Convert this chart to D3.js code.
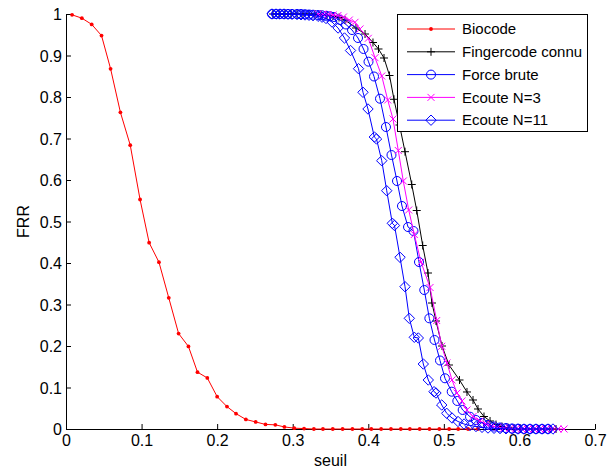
<!DOCTYPE html>
<html><head><meta charset="utf-8">
<script src="https://cdn.jsdelivr.net/npm/d3@7"></script>
<style>body{margin:0;background:#fff}svg text{font-family:"Liberation Sans",Arial,Helvetica,sans-serif;}</style>
</head><body><svg id="c" width="607" height="470"></svg>
<script>
const xTicks=[0,0.1,0.2,0.3,0.4,0.5,0.6,0.7];
const yTicks=[0,0.1,0.2,0.3,0.4,0.5,0.6,0.7,0.8,0.9,1];
const seriesNames=["Biocode","Fingercode connu","Force brute","Ecoute N=3","Ecoute N=11"];
const xLabel="seuil", yLabel="FRR";

const bioX=[0.008,0.021,0.034,0.047,0.059,0.072,0.085,0.098,0.110,0.123,0.136,0.149,0.162,0.174,0.187,0.200,0.213,0.225,0.238,0.251,0.264,0.277,0.289,0.302,0.315,0.328,0.340,0.353,0.366,0.379,0.392,0.404,0.417,0.430,0.443,0.455,0.468,0.481,0.494,0.507,0.519,0.532,0.545];
const bioY=[0.998,0.990,0.975,0.948,0.868,0.763,0.684,0.553,0.449,0.402,0.316,0.230,0.199,0.137,0.123,0.078,0.054,0.037,0.023,0.017,0.011,0.010,0.005,0.002,0.001,0,0,0,0,0,0,0,0,0,0,0,0,0,0,0,0,0,0];

const fcX=[0.2739,0.2819,0.2898,0.2977,0.3057,0.3136,0.3216,0.3295,0.3374,0.3454,0.3533,0.3613,0.3692,0.3837,0.3957,0.4062,0.4135,0.4208,0.4281,0.4340,0.4413,0.4486,0.4575,0.4641,0.4720,0.4790,0.4843,0.4896,0.4976,0.5068,0.5207,0.5306,0.5386,0.5452,0.5531,0.5611,0.5690,0.5769,0.5849,0.5928,0.6008,0.6087,0.6167,0.6246,0.6325,0.6405,0.6484];
const fcY=[1,1,1,1,1,1,1,0.9995,0.9988,0.9976,0.9952,0.9916,0.9855,0.9663,0.9518,0.9313,0.9157,0.8940,0.8518,0.7945,0.7325,0.6682,0.5892,0.5265,0.4422,0.3759,0.3036,0.2602,0.2000,0.1542,0.1181,0.0892,0.0699,0.0482,0.0301,0.0193,0.0108,0.0060,0.0031,0.0017,0.0007,0,0,0,0,0,0];

const fbX=[0.2726,0.2779,0.2832,0.2885,0.2938,0.2991,0.3057,0.3110,0.3163,0.3216,0.3269,0.3335,0.3388,0.3441,0.3494,0.3546,0.3626,0.3705,0.3785,0.3864,0.3937,0.4003,0.4076,0.4155,0.4234,0.4307,0.4380,0.4446,0.4526,0.4598,0.4671,0.4741,0.4808,0.4876,0.4949,0.5015,0.5104,0.5178,0.5249,0.5346,0.5425,0.5505,0.5584,0.5664,0.5743,0.5822,0.5902,0.5981,0.6060,0.6140,0.6219,0.6299,0.6378];
const fbY=[1,1,1,1,1,1,1,1,0.9993,0.9988,0.9983,0.9976,0.9969,0.9957,0.9945,0.9928,0.9855,0.9747,0.9614,0.9422,0.9157,0.8851,0.8494,0.7959,0.7277,0.6602,0.5976,0.5373,0.4867,0.4771,0.4024,0.3349,0.2667,0.2145,0.1651,0.1222,0.0899,0.0675,0.0458,0.0296,0.0217,0.0145,0.0096,0.0060,0.0036,0.0024,0.0012,0.0007,0,0,0,0,0];

const e3X=[0.3335,0.3401,0.3467,0.3533,0.3599,0.3672,0.3749,0.3824,0.3890,0.4000,0.4089,0.4178,0.4257,0.4327,0.4397,0.4463,0.4535,0.4609,0.4698,0.4817,0.4905,0.4972,0.5042,0.5108,0.5174,0.5240,0.5306,0.5386,0.5478,0.5558,0.5637,0.5717,0.5796,0.5875,0.5955,0.6034,0.6113,0.6193,0.6272,0.6352,0.6431,0.6511,0.6590];
const e3Y=[1.0,0.9995,0.9988,0.9976,0.9964,0.9928,0.9855,0.9800,0.9639,0.9414,0.8947,0.8506,0.7928,0.7470,0.6711,0.5976,0.5277,0.4687,0.4024,0.3410,0.2614,0.1993,0.1590,0.1181,0.0867,0.0675,0.0458,0.0301,0.0193,0.0120,0.0072,0.0043,0.0024,0.0014,0.0007,0,0,0,0,0,0,0,0];

const e11X=[0.2726,0.2779,0.2832,0.2885,0.2938,0.2991,0.3057,0.3110,0.3163,0.3216,0.3269,0.3335,0.3388,0.3441,0.3520,0.3600,0.3685,0.3765,0.3871,0.3930,0.3996,0.4080,0.4109,0.4178,0.4244,0.4318,0.4347,0.4420,0.4486,0.4543,0.4609,0.4662,0.4728,0.4794,0.4870,0.4896,0.4972,0.5038,0.5108,0.5187,0.5267,0.5346,0.5425,0.5505,0.5584,0.5664,0.5743,0.5822,0.5902,0.5981,0.6060,0.6140,0.6219,0.6299,0.6378,0.6444];
const e11Y=[1,1,1,1,0.9995,0.9993,0.9988,0.9981,0.9976,0.9969,0.9959,0.9945,0.9923,0.9892,0.9807,0.9663,0.9422,0.9120,0.8682,0.8113,0.7711,0.7036,0.6988,0.6465,0.5742,0.4957,0.4904,0.4137,0.3429,0.2667,0.2210,0.2193,0.1566,0.1181,0.0899,0.0867,0.0578,0.0378,0.0265,0.0181,0.0120,0.0084,0.0060,0.0041,0.0024,0.0017,0.0010,0.0005,0,0,0,0,0,0,0,0];

const W=607,H=470,L=66,R=595,T=14,B=429;
const FS=16;
const x=d3.scaleLinear().domain([0,0.7]).range([L,R]);
const y=d3.scaleLinear().domain([0,1]).range([B,T]);
const svg=d3.select("#c");

const markers={
  dot:g=>g.append("circle").attr("r",1.9).attr("fill","#ff0000").attr("stroke","none"),
  plus:g=>g.append("path").attr("d","M-4,0H4M0,-4V4").attr("fill","none"),
  circle:g=>g.append("circle").attr("r",4.5).attr("fill","none"),
  cross:g=>g.append("path").attr("d","M-3.5,-3.5L3.5,3.5M-3.5,3.5L3.5,-3.5").attr("fill","none"),
  diamond:g=>g.append("path").attr("d","M0,-5.2L5.2,0L0,5.2L-5.2,0Z").attr("fill","none")
};
const series=[
  {name:seriesNames[0],xs:bioX,ys:bioY,color:"#ff0000",m:"dot"},
  {name:seriesNames[1],xs:fcX,ys:fcY,color:"#000000",m:"plus"},
  {name:seriesNames[2],xs:fbX,ys:fbY,color:"#0000ff",m:"circle"},
  {name:seriesNames[3],xs:e3X,ys:e3Y,color:"#ff00ff",m:"cross"},
  {name:seriesNames[4],xs:e11X,ys:e11Y,color:"#0000ff",m:"diamond"}
];

// axes
const xa=svg.append("g").attr("transform",`translate(0,${B})`)
  .call(d3.axisBottom(x).tickValues(xTicks).tickSizeInner(-5).tickSizeOuter(0).tickPadding(6).tickFormat(d3.format("~g")));
const ya=svg.append("g").attr("transform",`translate(${L},0)`)
  .call(d3.axisLeft(y).tickValues(yTicks).tickSizeInner(-5).tickSizeOuter(0).tickPadding(4).tickFormat(d3.format("~g")));
[xa,ya].forEach(a=>{
  a.selectAll("text").attr("font-size",FS).attr("fill","#000").style("font-family","'Liberation Sans',Arial,sans-serif");
  a.selectAll("line,path").attr("stroke","#000").attr("stroke-width",1);
});
ya.selectAll(".tick text").attr("dy","0.35em");

svg.append("text").attr("x",(L+R)/2).attr("y",466).attr("text-anchor","middle").attr("font-size",FS).text(xLabel);
svg.append("text").attr("transform",`translate(29,${(T+B)/2}) rotate(-90)`).attr("text-anchor","middle").attr("font-size",FS).text(yLabel);

const line=d3.line().x(d=>x(d[0])).y(d=>y(d[1]));
series.forEach(s=>{
  const pts=d3.zip(s.xs,s.ys);
  const g=svg.append("g");
  g.append("path").attr("d",line(pts)).attr("fill","none").attr("stroke",s.color).attr("stroke-width",1);
  pts.forEach(p=>{
    const mg=g.append("g").attr("transform",`translate(${x(p[0])},${y(p[1])})`).attr("stroke",s.color).attr("stroke-width",1);
    markers[s.m](mg);
  });
});

// legend
const lg=svg.append("g");
lg.append("rect").attr("x",397.5).attr("y",14.5).attr("width",190).attr("height",117).attr("fill","#fff").attr("stroke","#000").attr("stroke-width",1);
series.forEach((s,i)=>{
  const cy=29+i*22.8;
  lg.append("line").attr("x1",407).attr("x2",455).attr("y1",cy).attr("y2",cy).attr("stroke",s.color).attr("stroke-width",1);
  const mg=lg.append("g").attr("transform",`translate(431,${cy})`).attr("stroke",s.color).attr("stroke-width",1);
  markers[s.m](mg);
  lg.append("text").attr("x",462).attr("y",cy).attr("dy","0.35em").attr("font-size",15).text(s.name);
});
</script></body></html>
